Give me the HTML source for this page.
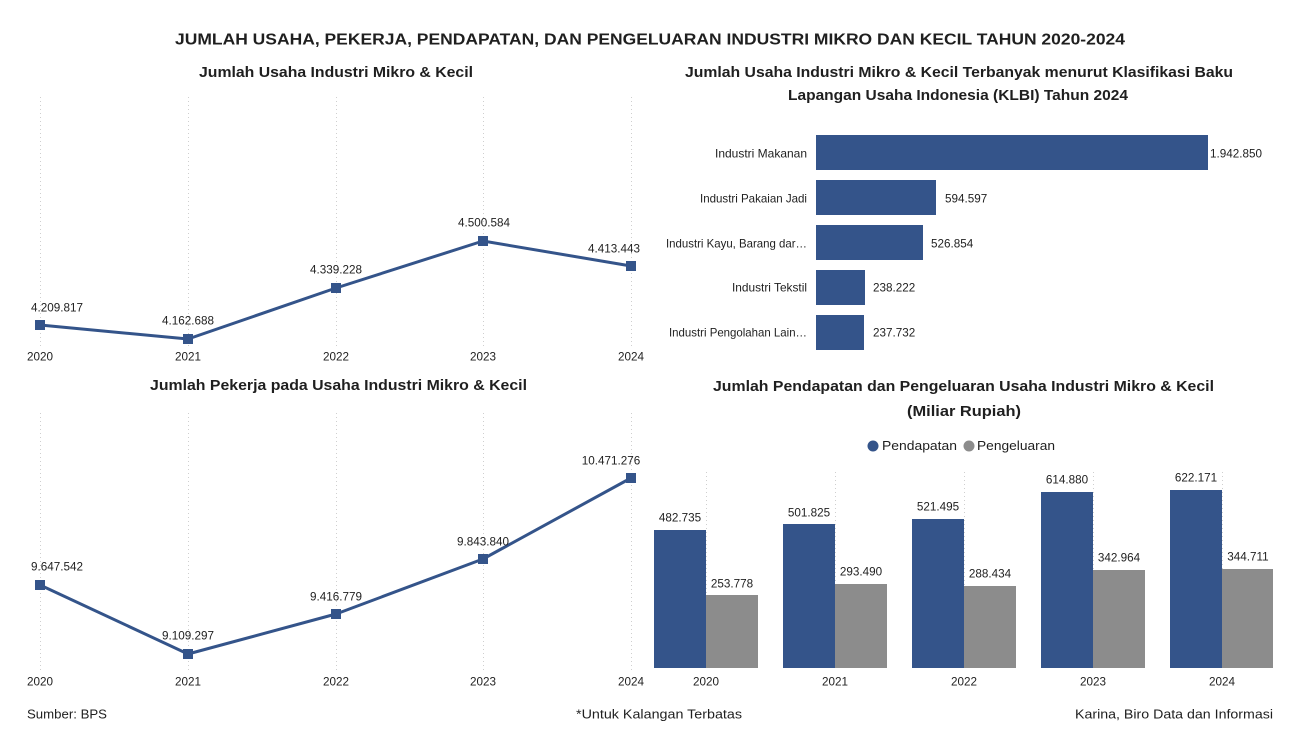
<!DOCTYPE html>
<html>
<head>
<meta charset="utf-8">
<style>
  html, body { margin:0; padding:0; background:#ffffff; }
  svg { display:block; }
  text { font-family: "Liberation Sans", Arial, sans-serif; fill:#1f1f1f; }
  .t { font-weight:bold; }
  .lbl { font-size:11.7px; }
</style>
</head>
<body>
<svg width="1301" height="751" viewBox="0 0 1301 751" xmlns="http://www.w3.org/2000/svg">
  <rect x="0" y="0" width="1301" height="751" fill="#ffffff"/>

  <!-- Main title -->
  <text class="t" x="175" y="40" font-size="16" dominant-baseline="central" textLength="950" lengthAdjust="spacingAndGlyphs">JUMLAH USAHA, PEKERJA, PENDAPATAN, DAN PENGELUARAN INDUSTRI MIKRO DAN KECIL TAHUN 2020-2024</text>

  <!-- ========== Top-left line chart ========== -->
  <text class="t" x="199" y="73" font-size="14.5" dominant-baseline="central" textLength="274" lengthAdjust="spacingAndGlyphs">Jumlah Usaha Industri Mikro &amp; Kecil</text>
  <g stroke="#cfcfcf" stroke-width="1" stroke-dasharray="1,3">
    <line x1="40.5" y1="97" x2="40.5" y2="347"/>
    <line x1="188.5" y1="97" x2="188.5" y2="347"/>
    <line x1="336.5" y1="97" x2="336.5" y2="347"/>
    <line x1="483.5" y1="97" x2="483.5" y2="347"/>
    <line x1="631.5" y1="97" x2="631.5" y2="347"/>
  </g>
  <polyline points="40,325 188,339 336,288 483,241 631,266" fill="none" stroke="#34548a" stroke-width="3" stroke-linejoin="round"/>
  <g fill="#34548a">
    <rect x="35" y="320" width="10" height="10"/>
    <rect x="183" y="334" width="10" height="10"/>
    <rect x="331" y="283" width="10" height="10"/>
    <rect x="478" y="236" width="10" height="10"/>
    <rect x="626" y="261" width="10" height="10"/>
  </g>
  <g class="lbl" text-anchor="middle" dominant-baseline="central">
    <text x="57" y="308">4.209.817</text>
    <text x="188" y="321">4.162.688</text>
    <text x="336" y="270">4.339.228</text>
    <text x="484" y="223">4.500.584</text>
    <text x="614" y="249">4.413.443</text>
  </g>
  <g class="lbl" text-anchor="middle" dominant-baseline="central">
    <text x="40" y="357">2020</text>
    <text x="188" y="357">2021</text>
    <text x="336" y="357">2022</text>
    <text x="483" y="357">2023</text>
    <text x="631" y="357">2024</text>
  </g>

  <!-- ========== Bottom-left line chart ========== -->
  <text class="t" x="150" y="386" font-size="14.5" dominant-baseline="central" textLength="377" lengthAdjust="spacingAndGlyphs">Jumlah Pekerja pada Usaha Industri Mikro &amp; Kecil</text>
  <g stroke="#cfcfcf" stroke-width="1" stroke-dasharray="1,3">
    <line x1="40.5" y1="413" x2="40.5" y2="672"/>
    <line x1="188.5" y1="413" x2="188.5" y2="672"/>
    <line x1="336.5" y1="413" x2="336.5" y2="672"/>
    <line x1="483.5" y1="413" x2="483.5" y2="672"/>
    <line x1="631.5" y1="413" x2="631.5" y2="672"/>
  </g>
  <polyline points="40,585 188,654 336,614 483,559 631,478" fill="none" stroke="#34548a" stroke-width="3" stroke-linejoin="round"/>
  <g fill="#34548a">
    <rect x="35" y="580" width="10" height="10"/>
    <rect x="183" y="649" width="10" height="10"/>
    <rect x="331" y="609" width="10" height="10"/>
    <rect x="478" y="554" width="10" height="10"/>
    <rect x="626" y="473" width="10" height="10"/>
  </g>
  <g class="lbl" text-anchor="middle" dominant-baseline="central">
    <text x="57" y="567">9.647.542</text>
    <text x="188" y="636">9.109.297</text>
    <text x="336" y="597">9.416.779</text>
    <text x="483" y="542">9.843.840</text>
    <text x="611" y="461">10.471.276</text>
  </g>
  <g class="lbl" text-anchor="middle" dominant-baseline="central">
    <text x="40" y="682">2020</text>
    <text x="188" y="682">2021</text>
    <text x="336" y="682">2022</text>
    <text x="483" y="682">2023</text>
    <text x="631" y="682">2024</text>
  </g>

  <!-- ========== Top-right horizontal bar chart ========== -->
  <text class="t" x="685" y="73" font-size="14.5" dominant-baseline="central" textLength="548" lengthAdjust="spacingAndGlyphs">Jumlah Usaha Industri Mikro &amp; Kecil Terbanyak menurut Klasifikasi Baku</text>
  <text class="t" x="788" y="96" font-size="14.5" dominant-baseline="central" textLength="340" lengthAdjust="spacingAndGlyphs">Lapangan Usaha Indonesia (KLBI) Tahun 2024</text>
  <g fill="#34548a">
    <rect x="816" y="135" width="392" height="35"/>
    <rect x="816" y="180" width="120" height="35"/>
    <rect x="816" y="225" width="107" height="35"/>
    <rect x="816" y="270" width="49" height="35"/>
    <rect x="816" y="315" width="48" height="35"/>
  </g>
  <g class="lbl" text-anchor="end" dominant-baseline="central">
    <text x="807" y="154" textLength="92" lengthAdjust="spacingAndGlyphs">Industri Makanan</text>
    <text x="807" y="199" textLength="107" lengthAdjust="spacingAndGlyphs">Industri Pakaian Jadi</text>
    <text x="807" y="244" textLength="141" lengthAdjust="spacingAndGlyphs">Industri Kayu, Barang dar…</text>
    <text x="807" y="288" textLength="75" lengthAdjust="spacingAndGlyphs">Industri Tekstil</text>
    <text x="807" y="333" textLength="138" lengthAdjust="spacingAndGlyphs">Industri Pengolahan Lain…</text>
  </g>
  <g class="lbl" dominant-baseline="central">
    <text x="1210" y="154">1.942.850</text>
    <text x="945" y="199">594.597</text>
    <text x="931" y="244">526.854</text>
    <text x="873" y="288">238.222</text>
    <text x="873" y="333">237.732</text>
  </g>

  <!-- ========== Bottom-right column chart ========== -->
  <text class="t" x="713" y="387" font-size="14.5" dominant-baseline="central" textLength="501" lengthAdjust="spacingAndGlyphs">Jumlah Pendapatan dan Pengeluaran Usaha Industri Mikro &amp; Kecil</text>
  <text class="t" x="907" y="412" font-size="14.5" dominant-baseline="central" textLength="114" lengthAdjust="spacingAndGlyphs">(Miliar Rupiah)</text>

  <circle cx="873" cy="446" r="5.5" fill="#34548a"/>
  <text x="882" y="446" font-size="12.6" dominant-baseline="central" textLength="75" lengthAdjust="spacingAndGlyphs">Pendapatan</text>
  <circle cx="969" cy="446" r="5.5" fill="#8c8c8c"/>
  <text x="977" y="446" font-size="12.6" dominant-baseline="central" textLength="78" lengthAdjust="spacingAndGlyphs">Pengeluaran</text>

  <g stroke="#cfcfcf" stroke-width="1" stroke-dasharray="1,3">
    <line x1="706.5" y1="472" x2="706.5" y2="668"/>
    <line x1="835.5" y1="472" x2="835.5" y2="668"/>
    <line x1="964.5" y1="472" x2="964.5" y2="668"/>
    <line x1="1093.5" y1="472" x2="1093.5" y2="668"/>
    <line x1="1222.5" y1="472" x2="1222.5" y2="668"/>
  </g>

  <g fill="#34548a">
    <rect x="654" y="530" width="52" height="138"/>
    <rect x="783" y="524" width="52" height="144"/>
    <rect x="912" y="519" width="52" height="149"/>
    <rect x="1041" y="492" width="52" height="176"/>
    <rect x="1170" y="490" width="52" height="178"/>
  </g>
  <g fill="#8c8c8c">
    <rect x="706" y="595" width="52" height="73"/>
    <rect x="835" y="584" width="52" height="84"/>
    <rect x="964" y="586" width="52" height="82"/>
    <rect x="1093" y="570" width="52" height="98"/>
    <rect x="1222" y="569" width="51" height="99"/>
  </g>
  <g class="lbl" text-anchor="middle" dominant-baseline="central">
    <text x="680" y="518">482.735</text>
    <text x="732" y="584">253.778</text>
    <text x="809" y="513">501.825</text>
    <text x="861" y="572">293.490</text>
    <text x="938" y="507">521.495</text>
    <text x="990" y="574">288.434</text>
    <text x="1067" y="480">614.880</text>
    <text x="1119" y="558">342.964</text>
    <text x="1196" y="478">622.171</text>
    <text x="1248" y="557">344.711</text>
  </g>
  <g class="lbl" text-anchor="middle" dominant-baseline="central">
    <text x="706" y="682">2020</text>
    <text x="835" y="682">2021</text>
    <text x="964" y="682">2022</text>
    <text x="1093" y="682">2023</text>
    <text x="1222" y="682">2024</text>
  </g>

  <!-- ========== Footer ========== -->
  <text x="27" y="714" font-size="12.8" dominant-baseline="central" textLength="80" lengthAdjust="spacingAndGlyphs">Sumber: BPS</text>
  <text x="576" y="714" font-size="12.8" dominant-baseline="central" textLength="166" lengthAdjust="spacingAndGlyphs">*Untuk Kalangan Terbatas</text>
  <text x="1075" y="714" font-size="12.8" dominant-baseline="central" textLength="198" lengthAdjust="spacingAndGlyphs">Karina, Biro Data dan Informasi</text>
</svg>
</body>
</html>
